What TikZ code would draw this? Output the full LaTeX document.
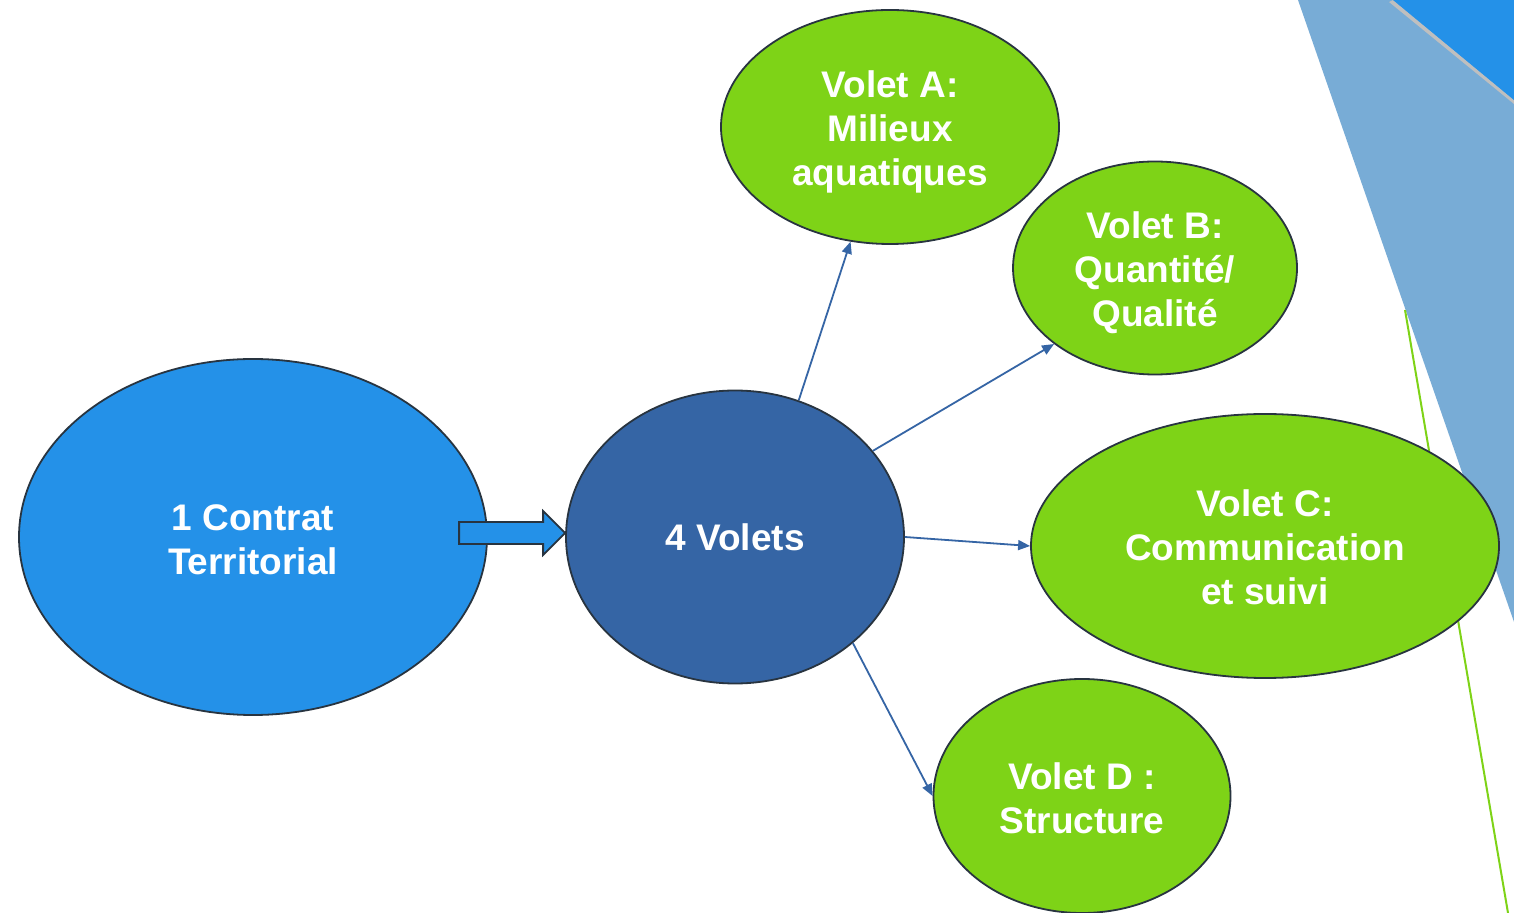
\documentclass[tikz,border=0pt]{standalone}
\usepackage{fontspec}
\setmainfont{Liberation Sans}
\usetikzlibrary{shapes.geometric,arrows.meta,calc}

\definecolor{skyblue}{RGB}{36,145,232}
\definecolor{deepblue}{RGB}{53,101,165}
\definecolor{leafgreen}{RGB}{126,211,23}
\definecolor{paleblue}{RGB}{120,172,214}
\definecolor{rimgray}{RGB}{40,52,64}

% room above the first line, to lower a text in its bubble
\newcommand{\topgap}[1]{\rule{0pt}{#1}}

\tikzset{
  bubble/.style={ellipse, draw=rimgray, line width=0.9pt, inner sep=0pt,
    text=white, align=center, font=\fontsize{18.5}{22}\selectfont\bfseries},
  volet/.style={bubble, fill=leafgreen},
  link/.style={draw=deepblue, line width=0.9pt, -{Triangle[length=6pt,width=5pt]}},
}

\begin{document}
\begin{tikzpicture}[x=0.5pt,y=-0.5pt]
			\useasboundingbox (0,0) rectangle (1514,913);
			\fill[white] (0,0) rectangle (1514,913);
			% decoration in the corner
			\fill[paleblue] (1298,0) -- (1514,0) -- (1514,622) -- cycle;
			\fill[black!25] (1389,2) -- (1514,104) -- (1514,100) -- (1393,0) -- cycle;
			\fill[skyblue] (1393,0) -- (1514,0) -- (1514,100) -- cycle;
			\draw[leafgreen, line width=1pt] (1405,310) -- (1508,913);
			% nodes
			\node[bubble, fill=skyblue, minimum width=234pt, minimum height=178pt] (contrat) at (253,537) {\topgap{15.5pt}1 Contrat\\Territorial};
			\node[bubble, fill=deepblue, minimum width=169pt, minimum height=146.5pt] (volets) at (735,537) {4 Volets};
			\node[volet, minimum width=169pt, minimum height=117pt] (voletA) at (890,127) {\topgap{18.5pt}Volet A:\\Milieux\\aquatiques};
			\node[volet, minimum width=142pt, minimum height=106.5pt] (voletB) at (1155,268) {\topgap{18.5pt}Volet B:\\Quantité/\\Qualité};
			\node[volet, minimum width=234pt, minimum height=132pt] (voletC) at (1265,546) {\topgap{14.5pt}Volet C:\\Communication\\et suivi};
			\node[volet, minimum width=148.5pt, minimum height=117pt] (voletD) at (1082,796) {\topgap{15.5pt}Volet D :\\Structure};
			% block arrow
			\coordinate (tip) at ($(volets.west)+(0,-4)$);
			\draw[rimgray, line width=0.9pt, fill=skyblue] ($(tip)+(-106,-11)$) -- ($(tip)+(-22,-11)$) -- ($(tip)+(-22,-22)$)
			  -- (tip) -- ($(tip)+(-22,22)$) -- ($(tip)+(-22,11)$) -- ($(tip)+(-106,11)$) -- cycle;
			% links
			\draw[link] (volets.65) -- (voletA.251);
			\draw[link] (volets.32) -- (voletB.217);
			\draw[link] (volets.0) -- (voletC.180);
			\draw[link] (volets.318) -- (voletD.180);
\end{tikzpicture}
\end{document}
